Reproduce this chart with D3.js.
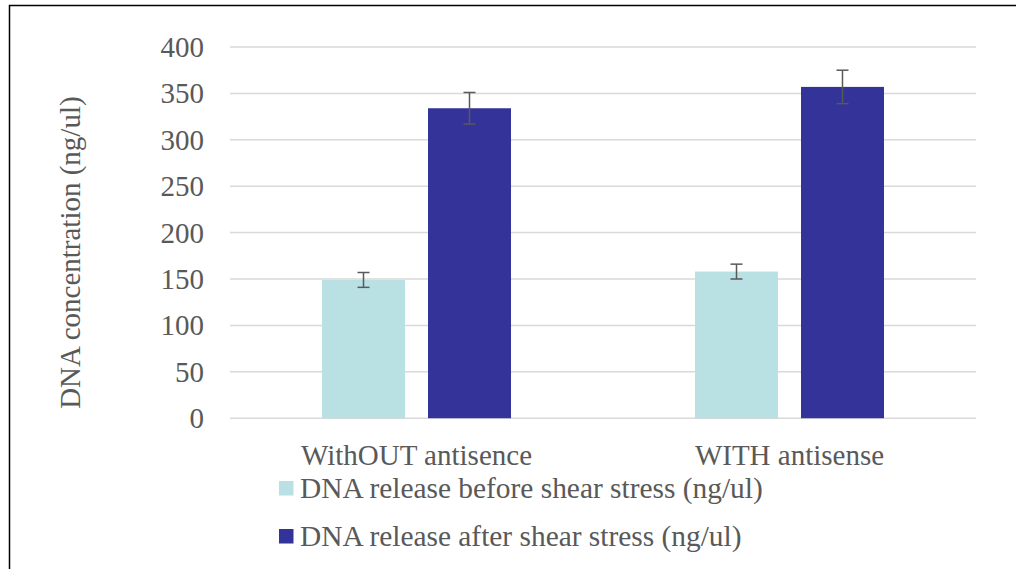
<!DOCTYPE html>
<html><head><meta charset="utf-8">
<script src="https://cdn.jsdelivr.net/npm/d3@7"></script>
<style>body{margin:0;background:#fff}svg{display:block}text{font-family:"Liberation Serif","Times New Roman",serif;font-size:29px;fill:#595959}</style>
</head><body>
<svg id="c" width="1016" height="569"></svg>
<script>
const categories = ["WithOUT antisence", "WITH antisense"];
const seriesNames = ["DNA release before shear stress (ng/ul)", "DNA release after shear stress (ng/ul)"];
const before = [149, 158];
const after = [334, 357];
const beforeErr = [8, 8];
const afterErr = [17, 18];
const yTicks = [0, 50, 100, 150, 200, 250, 300, 350, 400];
const colors = ["#b9e0e3", "#333399"];

(function () {
const svg = d3.select("#c");

svg.append("path").attr("d", "M9.5,569 L9.5,5.5 L1016,5.5").attr("fill", "none").attr("stroke", "#000").attr("stroke-width", 1.5);

const pL = 230, pR = 976, pT = 47, pB = 418.2;
const x = d3.scaleBand().domain(categories).range([pL, pR]);
const y = d3.scaleLinear().domain([0, 400]).range([pB, pT]);

svg.append("g").selectAll("line").data(yTicks).join("line")
  .attr("x1", pL).attr("x2", pR)
  .attr("y1", d => y(d)).attr("y2", d => y(d))
  .attr("stroke", "#d9d9d9").attr("stroke-width", 1.5);

svg.append("g").selectAll("text").data(yTicks).join("text")
  .attr("x", 204).attr("y", d => y(d) + 10)
  .attr("text-anchor", "end").text(d => d);

svg.append("text").attr("transform", `translate(80,${(pT + pB) / 2 + 20}) rotate(-90)`)
  .attr("text-anchor", "middle").text("DNA concentration (ng/ul)");

const series = [
  {name: seriesNames[0], vals: before, errs: beforeErr, color: colors[0]},
  {name: seriesNames[1], vals: after, errs: afterErr, color: colors[1]}
];
const inner = d3.scaleBand().domain([0, 1]).range([0, x.bandwidth()]).paddingInner(0.217).paddingOuter(0.868);

series.forEach((s, si) => {
  const g = svg.append("g");
  g.selectAll("rect").data(categories).join("rect")
    .attr("x", c => x(c) + inner(si)).attr("width", inner.bandwidth())
    .attr("y", (c, i) => y(s.vals[i])).attr("height", (c, i) => pB - y(s.vals[i]))
    .attr("fill", s.color);
  categories.forEach((c, i) => {
    const cx = x(c) + inner(si) + inner.bandwidth() / 2;
    const y1 = y(s.vals[i] + s.errs[i]), y2 = y(s.vals[i] - s.errs[i]);
    g.append("line").attr("x1", cx).attr("x2", cx).attr("y1", y1).attr("y2", y2).attr("stroke", "#595959").attr("stroke-width", 1.5);
    [y1, y2].forEach(yy => g.append("line").attr("x1", cx - 6).attr("x2", cx + 6).attr("y1", yy).attr("y2", yy).attr("stroke", "#595959").attr("stroke-width", 1.5));
  });
});

svg.append("g").selectAll("text").data(categories).join("text")
  .attr("x", c => x(c) + x.bandwidth() / 2).attr("y", 465)
  .attr("text-anchor", "middle").text(c => c);

const leg = svg.append("g").selectAll("g").data(series).join("g")
  .attr("transform", (d, i) => `translate(279,${481 + i * 48})`);
leg.append("rect").attr("width", 14.5).attr("height", 14.5).attr("fill", d => d.color);
leg.append("text").attr("x", 21).attr("y", 16.5).style("font-size", "29.4px").text(d => d.name);
})();
</script>
</body></html>
